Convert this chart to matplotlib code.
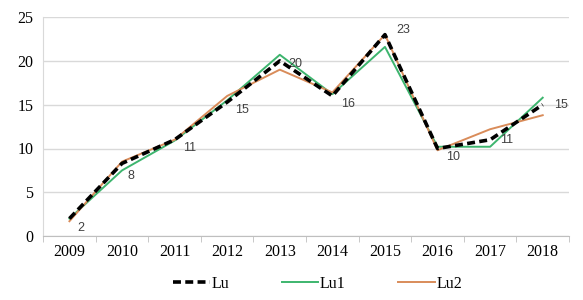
import numpy as np
import matplotlib.pyplot as plt

plt.rcParams['font.family'] = ['Liberation Serif', 'DejaVu Serif']

years = ['2009', '2010', '2011', '2012', '2013', '2014', '2015', '2016', '2017', '2018']
lu = [2, 8.3, 11, 15.3, 20, 16, 23, 10, 11, 15]
lu_labels = ['2', '8', '11', '15', '20', '16', '23', '10', '11', '15']
lu1 = [2.0, 7.5, 10.9, 15.5, 20.7, 16.2, 21.6, 10.2, 10.2, 15.8]
lu2 = [1.7, 8.5, 11.0, 16.0, 19.0, 16.4, 23.0, 9.8, 12.2, 13.8]
# label offsets in points (dx, dy)
offs = [(6, -7), (4, -9), (6, -6), (6, -6), (6, -2), (6, -6), (8, 3), (6, -6), (7, 0), (8, 0)]

fig = plt.figure(figsize=(5.83, 3.0), dpi=100)
ax = fig.add_axes([0.074, 0.213, 0.902, 0.73])
x = np.arange(len(years))

ax.plot(x, lu1, color='#3db56e', lw=1.4, label='Lu1', zorder=3)
ax.plot(x, lu2, color='#d98c5a', lw=1.4, label='Lu2', zorder=3)
ax.plot(x, lu, color='black', lw=2.6, ls=(0, (2.2, 1.2)), label='Lu', zorder=4)

for xi, yi, t, o in zip(x, lu, lu_labels, offs):
    ax.annotate(t, (xi, yi), xytext=o, textcoords='offset points',
                fontsize=9, color='#404040', va='center', ha='left',
                family=['Liberation Sans', 'DejaVu Sans'])

ax.set_xlim(-0.5, len(years) - 0.5)
ax.set_ylim(0, 25)
ax.set_yticks([0, 5, 10, 15, 20, 25])
ax.set_xticks(x)
ax.set_xticklabels(years)
ax.set_xticks(np.arange(-0.5, len(years), 1), minor=True)
ax.tick_params(axis='x', which='major', length=0, labelsize=11.5, pad=6)
ax.tick_params(axis='x', which='minor', length=4, color='#bfbfbf')
ax.tick_params(axis='y', length=0, labelsize=11.5, pad=7)
ax.grid(axis='y', color='#d9d9d9', lw=1)
ax.set_axisbelow(True)
for s in ['top', 'right']:
    ax.spines[s].set_visible(False)
ax.spines['left'].set_color('#d9d9d9')
ax.spines['bottom'].set_color('#bfbfbf')

h, l = ax.get_legend_handles_labels()
order = [2, 0, 1]
fig.legend([h[i] for i in order], [l[i] for i in order], loc='lower center',
           ncol=3, frameon=False, fontsize=11.5, bbox_to_anchor=(0.545, -0.02),
           handlelength=2.3, handletextpad=0.1, columnspacing=3.3)

fig.savefig('out.png', dpi=100)
